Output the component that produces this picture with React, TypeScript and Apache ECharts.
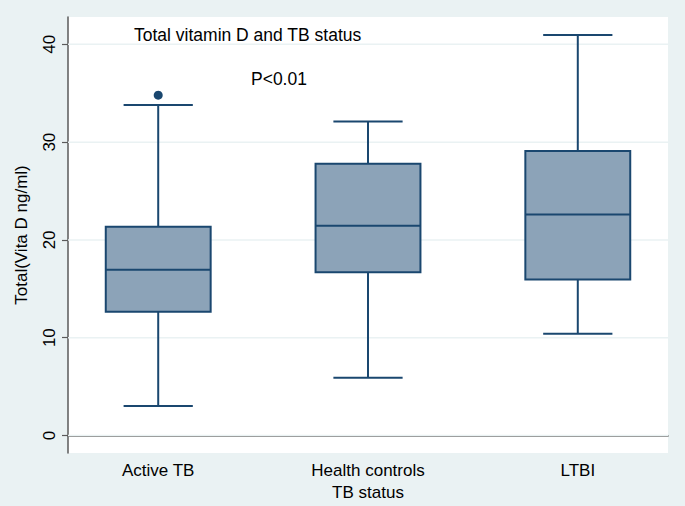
import React, { useEffect, useRef } from "react";
import * as echarts from "echarts";

const categories = ["Active TB", "Health controls", "LTBI"];
const whiskerLow = [3.0, 5.9, 10.4];
const q1 = [12.65, 16.7, 15.95];
const median = [16.95, 21.45, 22.6];
const q3 = [21.35, 27.8, 29.1];
const whiskerHigh = [33.8, 32.1, 40.95];
const outlierGroup = [0];
const outlierValue = [34.8];
const yTicks = [0, 10, 20, 30, 40];

const FONT = "'Liberation Sans', Arial, Helvetica, sans-serif";
const NAVY = "#1A476F";
const FILL = "#8CA3B8";
const BG = "#EAF2F3";

export default function App() {
  const ref = useRef<HTMLDivElement>(null);
  useEffect(() => {
    if (!ref.current) return;
    const chart = echarts.init(ref.current, null, { renderer: "svg" });
    const boxData = categories.map((_, i) => [
      i + 1,
      whiskerLow[i],
      q1[i],
      median[i],
      q3[i],
      whiskerHigh[i],
    ]);
    const outliers = outlierGroup.map((g, i) => [g + 1, outlierValue[i]]);
    chart.setOption({
      animation: false,
      backgroundColor: BG,
      textStyle: { fontFamily: FONT },
      grid: {
        left: 68,
        right: 17,
        top: 17,
        bottom: 53,
        show: true,
        backgroundColor: "#ffffff",
        borderWidth: 0,
      },
      graphic: [
        {
          type: "text",
          x: 134,
          y: 35,
          style: {
            text: "Total vitamin D and TB status",
            font: `17.5px ${FONT}`,
            fill: "#000",
            verticalAlign: "middle",
          },
          z: 100,
        },
        {
          type: "text",
          x: 251,
          y: 79,
          style: {
            text: "P<0.01",
            font: `17.5px ${FONT}`,
            fill: "#000",
            verticalAlign: "middle",
          },
          z: 100,
        },
      ],
      xAxis: {
        type: "value",
        min: 0.57,
        max: 3.43,
        name: "TB status",
        nameLocation: "middle",
        nameGap: 30,
        nameTextStyle: { fontSize: 17, color: "#000", fontFamily: FONT },
        axisLine: { show: true, lineStyle: { color: "#5a5a5a", width: 1.5 } },
        axisTick: { show: false },
        splitLine: { show: false },
        axisLabel: {
          customValues: [1, 2, 3],
          formatter: (v: number) => categories[Math.round(v) - 1] ?? "",
          fontSize: 17,
          color: "#000",
          margin: 9,
          fontFamily: FONT,
        },
      },
      yAxis: {
        type: "value",
        min: -1.8,
        max: 42.8,
        name: "Total(Vita D ng/ml)",
        nameLocation: "middle",
        nameGap: 38,
        nameRotate: 90,
        nameTextStyle: { fontSize: 17, color: "#000", fontFamily: FONT },
        axisLine: { show: true, lineStyle: { color: "#5a5a5a", width: 1.5 } },
        axisTick: {
          show: true,
          customValues: yTicks,
          length: 6,
          lineStyle: { color: "#5a5a5a", width: 1.2 },
        },
        axisLabel: {
          customValues: yTicks,
          rotate: 90,
          fontSize: 17,
          color: "#000",
          margin: 10,
          fontFamily: FONT,
        },
        splitLine: { show: false },
      },
      series: [
        {
          type: "custom",
          data: yTicks.map((t) => [1, t]),
          encode: { x: 0, y: 1 },
          silent: true,
          z: 1,
          renderItem: (params: any, api: any) => {
            const v = api.value(1);
            const a = api.coord([0.57, v]);
            const b = api.coord([3.43, v]);
            return {
              type: "line",
              shape: { x1: a[0], y1: a[1], x2: b[0], y2: b[1] },
              style: { stroke: BG, lineWidth: 1.5 },
            };
          },
        },
        {
          type: "custom",
          data: boxData,
          encode: { x: 0, y: [1, 2, 3, 4, 5] },
          z: 5,
          renderItem: (params: any, api: any) => {
            const x = api.value(0);
            const lo = api.value(1);
            const b1 = api.value(2);
            const md = api.value(3);
            const b3 = api.value(4);
            const hi = api.value(5);
            const hw = 0.25;
            const cw = 0.165;
            const pLoL = api.coord([x - cw, lo]);
            const pLoR = api.coord([x + cw, lo]);
            const pHiL = api.coord([x - cw, hi]);
            const pHiR = api.coord([x + cw, hi]);
            const pQ1L = api.coord([x - hw, b1]);
            const pQ3R = api.coord([x + hw, b3]);
            const pMdL = api.coord([x - hw, md]);
            const pMdR = api.coord([x + hw, md]);
            const cLo = api.coord([x, lo]);
            const cQ1 = api.coord([x, b1]);
            const cQ3 = api.coord([x, b3]);
            const cHi = api.coord([x, hi]);
            const lineStyle = { stroke: NAVY, lineWidth: 2 };
            return {
              type: "group",
              children: [
                { type: "line", shape: { x1: cLo[0], y1: cLo[1], x2: cQ1[0], y2: cQ1[1] }, style: lineStyle },
                { type: "line", shape: { x1: cQ3[0], y1: cQ3[1], x2: cHi[0], y2: cHi[1] }, style: lineStyle },
                { type: "line", shape: { x1: pLoL[0], y1: pLoL[1], x2: pLoR[0], y2: pLoR[1] }, style: lineStyle },
                { type: "line", shape: { x1: pHiL[0], y1: pHiL[1], x2: pHiR[0], y2: pHiR[1] }, style: lineStyle },
                {
                  type: "rect",
                  shape: {
                    x: pQ1L[0],
                    y: pQ3R[1],
                    width: pQ3R[0] - pQ1L[0],
                    height: pQ1L[1] - pQ3R[1],
                  },
                  style: { fill: FILL, stroke: NAVY, lineWidth: 2 },
                },
                { type: "line", shape: { x1: pMdL[0], y1: pMdL[1], x2: pMdR[0], y2: pMdR[1] }, style: lineStyle },
              ],
            };
          },
        },
        {
          type: "scatter",
          data: outliers,
          symbol: "circle",
          symbolSize: 9,
          itemStyle: { color: NAVY, opacity: 1 },
          z: 6,
        },
      ],
    });
    return () => chart.dispose();
  }, []);
  return (
    <div
      ref={ref}
      style={{ position: "fixed", left: 0, top: 0, width: 685, height: 506 }}
    />
  );
}
